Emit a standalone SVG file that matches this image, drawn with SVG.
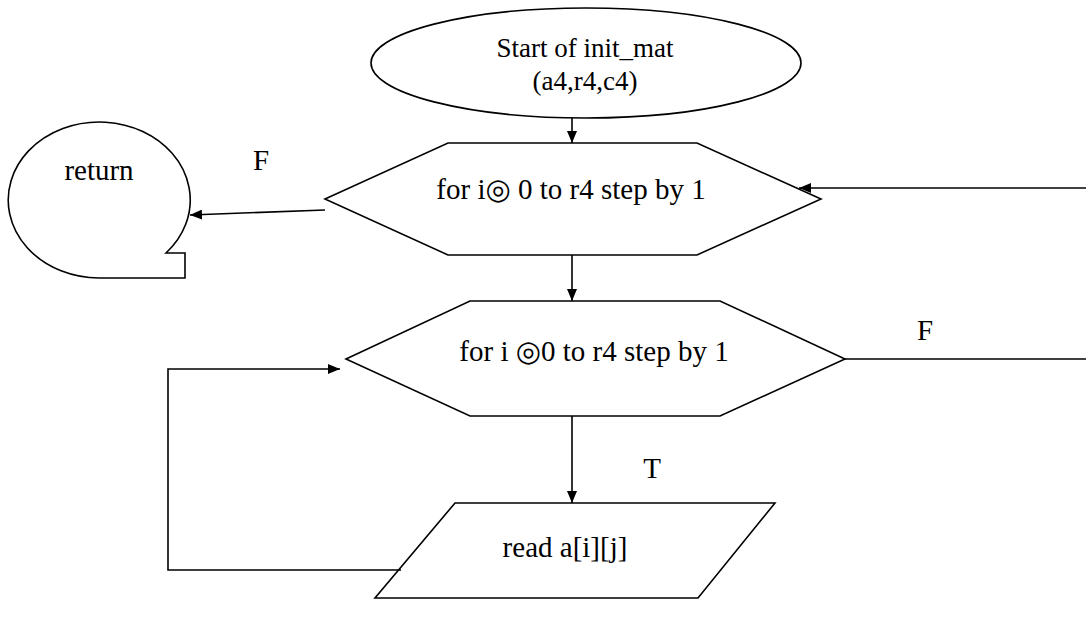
<svg xmlns="http://www.w3.org/2000/svg" width="1086" height="617" viewBox="0 0 1086 617">
<defs>
<marker id="ah" markerWidth="12" markerHeight="10" refX="12" refY="5" orient="auto" markerUnits="userSpaceOnUse"><path d="M0,0 L12,5 L0,10 z" fill="#000"/></marker>
<style>
.s{fill:#fff;stroke:#000;stroke-width:1.6}
.c{fill:none;stroke:#000;stroke-width:1.6}
text{font-family:"Liberation Serif","Times New Roman","DejaVu Serif",serif;font-size:29px;fill:#000}
.t2{font-size:27px}
</style>
</defs>
<rect width="1086" height="617" fill="#fff"/>
<g id="start"><ellipse class="s" cx="586" cy="63" rx="215" ry="55"/><text class="t2" x="585" y="57" text-anchor="middle">Start of init_mat</text><text class="t2" x="585" y="90" text-anchor="middle">(a4,r4,c4)</text></g>
<g id="loop1"><polygon class="s" points="325,199 448,143 697,143 821,199 697,255 448,255"/><text x="571" y="199" text-anchor="middle">for i◎ 0 to r4 step by 1</text></g>
<g id="return"><path class="s" d="M99,278 L185,278 L185,253 L166,253 A91 78 0 1 0 99,278 Z"/><text x="99" y="180" text-anchor="middle">return</text></g>
<g id="loop2"><polygon class="s" points="346,359 470,301 720,301 845,359 720,416 470,416"/><text x="594" y="361" text-anchor="middle">for i ◎0 to r4 step by 1</text></g>
<g id="read"><polygon class="s" points="455,503 775,503 698,598 375,598"/><text x="565" y="557" text-anchor="middle">read a[i][j]</text></g>
<g id="connectors">
<line class="c" x1="572" y1="118" x2="572" y2="143" marker-end="url(#ah)"/>
<line class="c" x1="325" y1="210" x2="190" y2="215" marker-end="url(#ah)"/>
<line class="c" x1="572" y1="255" x2="572" y2="301" marker-end="url(#ah)"/>
<line class="c" x1="572" y1="416" x2="572" y2="503" marker-end="url(#ah)"/>
<polyline class="c" points="401,570 168,570 168,369 340,369" marker-end="url(#ah)"/>
<line class="c" x1="845" y1="359" x2="1086" y2="359"/>
<line class="c" x1="1086" y1="188" x2="799" y2="188" marker-end="url(#ah)"/>
</g>
<g id="labels">
<text x="261" y="170" text-anchor="middle">F</text>
<text x="925" y="340" text-anchor="middle">F</text>
<text x="652" y="478" text-anchor="middle">T</text>
</g>
</svg>
